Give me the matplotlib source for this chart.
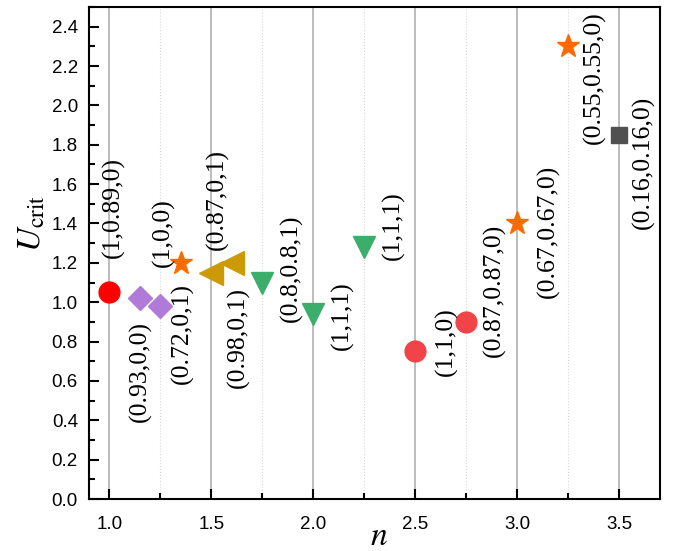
import numpy as np
import matplotlib.pyplot as plt
from matplotlib.ticker import MultipleLocator

plt.rcParams['font.family'] = 'Liberation Sans'
plt.rcParams['mathtext.fontset'] = 'stix'

# groups of points: n, U_crit, marker, colour
groups = [
    ([1.0], [1.05], 'o', '#ff0000'),
    ([1.15, 1.25], [1.02, 0.98], 'D', '#b07ad8'),
    ([1.35, 3.0, 3.25], [1.20, 1.40, 2.30], '*', '#ff6a00'),
    ([1.5, 1.6], [1.15, 1.20], '<', '#cc9a06'),
    ([1.75, 2.0, 2.25], [1.10, 0.94, 1.28], 'v', '#3aae6a'),
    ([2.5, 2.75], [0.75, 0.90], 'o', '#f04448'),
    ([3.5], [1.85], 's', '#505050'),
]
msizes = {'o': 15, 'D': 12, '*': 17, '<': 17, 'v': 16, 's': 12}

labels = ['(1,0.89,0)', '(0.93,0,0)', '(1,0,0)', '(0.72,0,1)', '(0.87,0,1)',
          '(0.98,0,1)', '(0.8,0.8,1)', '(1,1,1)', '(1,1,1)', '(1,1,0)',
          '(0.87,0.87,0)', '(0.67,0.67,0)', '(0.55,0.55,0)', '(0.16,0.16,0)']
label_x = [1.02, 1.15, 1.265, 1.36, 1.53, 1.63, 1.89, 2.14, 2.39, 2.65,
           2.89, 3.15, 3.38, 3.62]
label_y = [1.48, 0.65, 1.355, 0.84, 1.52, 0.82, 1.17, 0.93, 1.39, 0.80,
           1.06, 1.36, 2.14, 1.71]

fig = plt.figure(figsize=(6.78, 5.51), dpi=100)
ax = fig.add_axes([89/678, 52/551, 571/678, 492/551])

ax.set_xlim(0.9, 3.7)
ax.set_ylim(0, 2.5)
ax.xaxis.set_major_locator(MultipleLocator(0.5))
ax.xaxis.set_minor_locator(MultipleLocator(0.25))
ax.yaxis.set_minor_locator(MultipleLocator(0.1))
ax.set_yticks(np.arange(0, 2.41, 0.2))
ax.tick_params(which='both', direction='in', top=False, right=False,
               labelsize=13.5, width=1.5)
ax.tick_params(which='major', length=7)
ax.tick_params(which='minor', length=4.5)
ax.tick_params(axis='x', pad=12)
ax.tick_params(axis='y', pad=8)
for s in ax.spines.values():
    s.set_linewidth(1.5)

ax.grid(axis='x', which='major', color='#b0b0b0', lw=1.2, ls='-')
ax.grid(axis='x', which='minor', color='#d8d8d8', lw=0.8, ls=':')
ax.set_axisbelow(True)

for xs, ys, m, c in groups:
    ax.plot(xs, ys, ls='none', marker=m, color=c, mec=c,
            markersize=msizes[m], zorder=3)

for t, x, y in zip(labels, label_x, label_y):
    ax.text(x, y, t, rotation=90, ha='center', va='center',
            family='Liberation Serif', fontsize=18.5)

ax.set_xlabel(r'$n$', fontsize=24)
ax.xaxis.set_label_coords(0.508, -0.045)
ax.set_ylabel(r'$U_{\mathrm{crit}}$', fontsize=24)
ax.yaxis.set_label_coords(-0.072, 0.56)

fig.savefig('out.png', dpi=100)
